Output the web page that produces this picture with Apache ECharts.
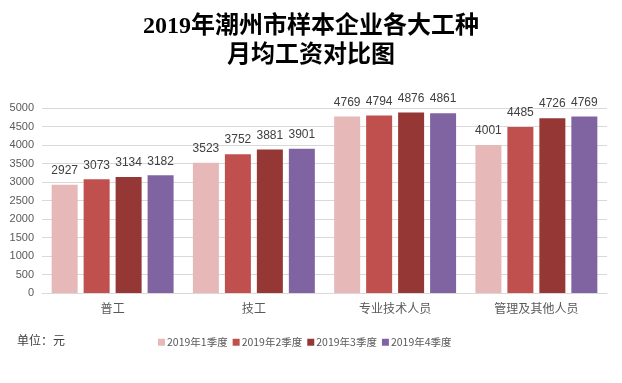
<!DOCTYPE html>
<html><head><meta charset="utf-8">
<script src="https://cdn.jsdelivr.net/npm/echarts@6/dist/echarts.min.js"></script>
<style>html,body{margin:0;padding:0;background:#fff}#c{width:622px;height:383px}</style>
</head><body><div id="c"></div>
<script>
var categories = ['普工', '技工', '专业技术人员', '管理及其他人员'];
var seriesNames = ['2019年1季度', '2019年2季度', '2019年3季度', '2019年4季度'];
var q1 = [2927, 3523, 4769, 4001];
var q2 = [3073, 3752, 4794, 4485];
var q3 = [3134, 3881, 4876, 4726];
var q4 = [3182, 3901, 4861, 4769];
var colors = ['#E6B9B8', '#C0504D', '#953735', '#8064A2'];
var values = [q1, q2, q3, q4];

var chart = echarts.init(document.getElementById('c'));
chart.setOption({
  animation: false,
  title: {
    text: '2019年潮州市样本企业各大工种\n月均工资对比图',
    left: 'center', top: 7,
    textStyle: { fontFamily: 'Liberation Serif, Noto Sans CJK SC', fontSize: 24, fontWeight: 'bold', color: '#000', lineHeight: 29 }
  },
  graphic: [{
    type: 'text', left: 17, top: 334,
    style: { text: '单位：元', fontSize: 12, fill: '#404040', fontFamily: 'Noto Sans CJK SC' }
  }],
  legend: {
    data: seriesNames, left: 153, top: 332,
    itemWidth: 7, itemHeight: 7, itemGap: 5, icon: 'rect',
    textStyle: { fontSize: 10.5, color: '#595959', fontFamily: 'Noto Sans CJK SC', padding: [0, 0, 0, -3] }
  },
  grid: { left: 42, right: 15, top: 108, bottom: 90 },
  xAxis: {
    type: 'category', data: categories,
    axisLine: { lineStyle: { color: '#d9d9d9' } },
    axisTick: { show: false },
    axisLabel: { fontSize: 12, color: '#595959', margin: 9, fontFamily: 'Noto Sans CJK SC' }
  },
  yAxis: {
    type: 'value', min: 0, max: 5000, interval: 500,
    axisLine: { show: false }, axisTick: { show: false },
    splitLine: { lineStyle: { color: '#d9d9d9' } },
    axisLabel: { fontSize: 11, color: '#595959', margin: 8, fontFamily: 'Liberation Sans', formatter: function (v) { return String(v); } }
  },
  series: values.map(function (v, i) {
    return {
      name: seriesNames[i], type: 'bar', data: v,
      barWidth: 26, barGap: '23%', barCategoryGap: '13%',
      itemStyle: { color: colors[i] },
      label: { show: true, position: 'top', distance: 8, fontSize: 12, color: '#404040', fontFamily: 'Liberation Sans' }
    };
  })
});
</script></body></html>
